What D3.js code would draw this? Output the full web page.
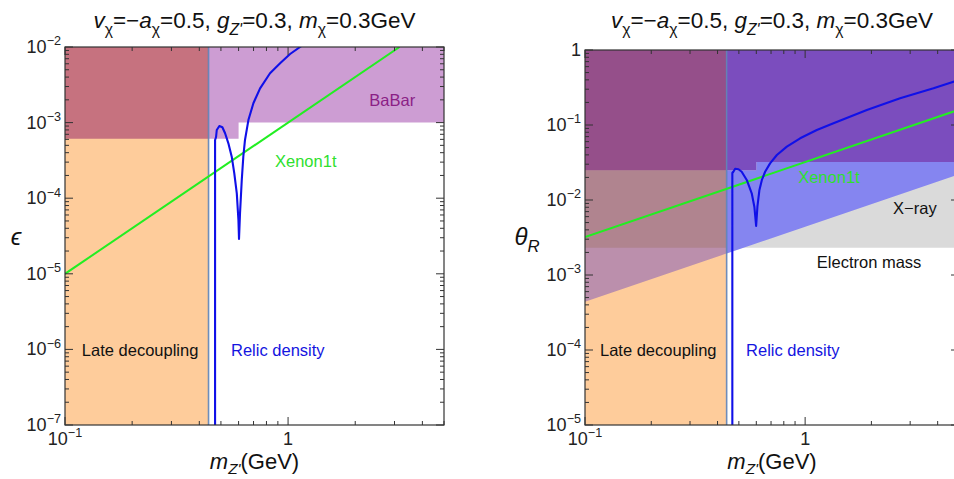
<!DOCTYPE html>
<html><head><meta charset="utf-8">
<script src="https://cdn.jsdelivr.net/npm/d3@7"></script>
<style>
body{margin:0;background:#fff}
svg{display:block;font-family:"Liberation Sans",Arial,sans-serif}
text{white-space:pre}
</style>
</head><body>
<svg id="c" width="954" height="479"></svg>
<script>
// ---------------- DATA ----------------
const massDomain = [0.1, 5];
const xTickValues = [0.1, 1];
const xTickLabels = [["10", "−1"], ["1", ""]];
const lateDecouplingMax = 0.44;

// Left panel (epsilon)
const epsDomain = [1e-7, 1e-2];
const epsTickValues = [1e-7, 1e-6, 1e-5, 1e-4, 1e-3, 1e-2];
const epsTickLabels = [["10","−7"],["10","−6"],["10","−5"],["10","−4"],["10","−3"],["10","−2"]];
const babarMass = [0.1, 0.6, 0.6, 5];
const babarEps  = [6.1e-4, 6.1e-4, 1.0e-3, 1.0e-3];
const xenonMassL = [0.1, 3.16];
const xenonEps   = [1e-5, 1e-2];
const relicMassL = [0.4707,0.4707,0.4755,0.479,0.492,0.5076,0.522,0.540,0.559,0.574,0.589,0.599,0.6026,0.609,0.620,0.630,0.641,0.664,0.699,0.749,0.830,0.921,1.021,1.132,1.25];
const relicEps   = [1e-7,5.89e-4,6.45e-4,7.98e-4,9.02e-4,8.67e-4,7.22e-4,5.32e-4,3.54e-4,2.13e-4,1.16e-4,5.15e-5,2.88e-5,6.37e-5,1.74e-4,3.54e-4,5.89e-4,1.08e-3,1.80e-3,2.84e-3,4.49e-3,6.09e-3,8.08e-3,1.0e-2,1.25e-2];

// Right panel (theta_R)
const thetaDomain = [1e-5, 1];
const thetaTickValues = [1e-5, 1e-4, 1e-3, 1e-2, 1e-1, 1];
const thetaTickLabels = [["10","−5"],["10","−4"],["10","−3"],["10","−2"],["10","−1"],["1",""]];
const mixBoundMass  = [0.1, 0.6, 0.6, 5];
const mixBoundTheta = [0.025, 0.025, 0.032, 0.032];
const xrayMass  = [0.1, 5];
const xrayTheta = [4.4e-4, 0.022];
const electronMassTheta = 2.3e-3;
const xenonMassR  = [0.1, 5];
const xenonTheta  = [3.2e-3, 0.16];
const relicMassR  = [0.467,0.467,0.472,0.481,0.498,0.515,0.543,0.572,0.588,0.599,0.607,0.620,0.636,0.658,0.693,0.744,0.826,0.949,1.130,1.345,1.907,2.70,3.83,4.72,5.0];
const relicTheta  = [1e-5,0.0229,0.0238,0.0261,0.0257,0.0238,0.0185,0.01228,8.14e-3,4.5e-3,8.14e-3,0.0136,0.0185,0.0238,0.0308,0.0398,0.0514,0.0665,0.0858,0.1054,0.158,0.227,0.308,0.378,0.40];

// ---------------- DRAW ----------------
const svg = d3.select("#c");
const zip = (a, b) => a.map((v, i) => [v, b[i]]);

function rich(sel, segs, size, subShift) {
  let cur = 0;
  segs.forEach(([t, type]) => {
    let target = 0, fs = size, it = false;
    if (type === "sub" || type === "subi") { target = size * (subShift || 0.3); fs = size * 0.7; }
    if (type === "sup") { target = -size * 0.42; fs = size * 0.7; }
    if (type === "i" || type === "subi") it = true;
    const ts = sel.append("tspan").text(t).attr("font-size", fs);
    if (it) ts.attr("font-style", "italic");
    if (target !== cur) { ts.attr("dy", target - cur); cur = target; }
  });
}

let clipN = 0;
function makeClip(x0, y0, w, h) {
  const id = "clip" + (clipN++);
  svg.append("clipPath").attr("id", id).append("rect")
    .attr("x", x0).attr("y", y0).attr("width", w).attr("height", h);
  return "url(#" + id + ")";
}

function drawPanel(cfg) {
  const x = d3.scaleLog().domain(massDomain).range(cfg.xr);
  const y = d3.scaleLog().domain(cfg.yDomain).range(cfg.yr);
  const [X0, X1] = cfg.xr, [Y1, Y0] = cfg.yr;
  const line = d3.line().x(d => x(d[0])).y(d => y(d[1]));
  const poly = pts => line(pts) + "Z";
  const xs = x(lateDecouplingMax);
  const clipAll = makeClip(X0, Y0, X1 - X0, Y1 - Y0);
  const clipL = makeClip(X0, Y0, xs - X0, Y1 - Y0);
  const clipR = makeClip(xs, Y0, X1 - xs, Y1 - Y0);
  const gL = svg.append("g").attr("clip-path", clipL);
  const gR = svg.append("g").attr("clip-path", clipR);

  const [ya, yb] = cfg.yDomain;
  gL.append("path").attr("fill", "#FECC9B")
    .attr("d", poly([[massDomain[0], ya], [lateDecouplingMax, ya], [lateDecouplingMax, yb], [massDomain[0], yb]]));

  cfg.regions(gL, gR, poly, ya, yb);

  svg.append("line").attr("x1", xs).attr("x2", xs).attr("y1", Y0).attr("y2", Y1)
    .attr("stroke", "#5E82B6").attr("stroke-width", 1.6).attr("stroke-opacity", 0.9);

  const gc = svg.append("g").attr("clip-path", clipAll);
  gc.append("path").attr("d", line(cfg.xenon)).attr("fill", "none")
    .attr("stroke", "#22EE22").attr("stroke-width", 2);
  gc.append("path").attr("d", line(cfg.relic)).attr("fill", "none")
    .attr("stroke", "#1010E8").attr("stroke-width", 2.1).attr("stroke-linejoin", "round");

  svg.append("rect").attr("x", X0).attr("y", Y0).attr("width", X1 - X0).attr("height", Y1 - Y0)
    .attr("fill", "none").attr("stroke", "#333").attr("stroke-width", 1.2);

  const tg = svg.append("g").attr("stroke", "#333").attr("stroke-width", 1);
  function logTicks(dom) {
    const out = [];
    const lo = Math.floor(Math.log10(dom[0])), hi = Math.ceil(Math.log10(dom[1]));
    for (let e = lo; e <= hi; e++) for (let k = 1; k <= 9; k++) {
      const v = k * Math.pow(10, e);
      if (v >= dom[0] * 0.9999 && v <= dom[1] * 1.0001) out.push([v, k === 1]);
    }
    return out;
  }
  logTicks(massDomain).forEach(([v, maj]) => {
    const L = maj ? 8 : 4, px = x(v);
    tg.append("line").attr("x1", px).attr("x2", px).attr("y1", Y1).attr("y2", Y1 - L);
    tg.append("line").attr("x1", px).attr("x2", px).attr("y1", Y0).attr("y2", Y0 + L);
  });
  logTicks(cfg.yDomain).forEach(([v, maj]) => {
    const L = maj ? 8 : 4, py = y(v);
    tg.append("line").attr("y1", py).attr("y2", py).attr("x1", X0).attr("x2", X0 + L);
    tg.append("line").attr("y1", py).attr("y2", py).attr("x1", X1).attr("x2", X1 - L);
  });

  cfg.yTicks.forEach((v, i) => {
    const t = svg.append("text").attr("x", X0 - 4).attr("y", y(v) + 6).attr("text-anchor", "end").attr("fill", "#222");
    const lab = cfg.yLabels[i];
    rich(t, lab[1] ? [[lab[0], "n"], [lab[1], "sup"]] : [[lab[0], "n"]], 18);
  });
  xTickValues.forEach((v, i) => {
    const t = svg.append("text").attr("x", x(v)).attr("y", Y1 + 20).attr("text-anchor", "middle").attr("fill", "#222");
    const lab = xTickLabels[i];
    rich(t, lab[1] ? [[lab[0], "n"], [lab[1], "sup"]] : [[lab[0], "n"]], 18);
  });

  const cx = (X0 + X1) / 2;
  const tt = svg.append("text").attr("x", cx).attr("y", 28).attr("text-anchor", "middle").attr("fill", "#111");
  rich(tt, [["v","i"],["χ","sub"],["=−","n"],["a","i"],["χ","sub"],["=0.5, ","n"],["g","i"],["Z'","subi"],["=0.3, ","n"],["m","i"],["χ","sub"],["=0.3GeV","n"]], 22.5);
  const xl = svg.append("text").attr("x", cx).attr("y", 469).attr("text-anchor", "middle").attr("fill", "#111");
  rich(xl, [["m","i"],["Z'","subi"],["(GeV)","n"]], 22, 0.22);
  const yl = svg.append("text").attr("x", cfg.ylabX).attr("y", 245).attr("text-anchor", "middle").attr("fill", "#111");
  rich(yl, cfg.ylab, 24);

  cfg.labels.forEach(l => {
    svg.append("text").attr("x", x(l.m)).attr("y", y(l.v)).attr("fill", l.c)
      .attr("font-size", 16.5).attr("text-anchor", l.a || "start").text(l.t);
  });
}

drawPanel({
  xr: [65, 444], yr: [425, 47], yDomain: epsDomain,
  yTicks: epsTickValues, yLabels: epsTickLabels,
  ylab: [["ϵ", "i"]], ylabX: 16,
  xenon: zip(xenonMassL, xenonEps),
  relic: zip(relicMassL, relicEps),
  regions: (gL, gR, poly, ya, yb) => {
    const babar = zip(babarMass, babarEps);
    const babarPoly = poly(babar.concat([[massDomain[1], yb], [massDomain[0], yb]]));
    gL.append("path").attr("fill", "#C6727F").attr("d", babarPoly);
    gR.append("path").attr("fill", "#CD9DD3").attr("d", babarPoly);
  },
  labels: [
    {t: "BaBar", m: 2.93, v: 1.66e-3, c: "#8B1F86", a: "middle"},
    {t: "Xenon1t", m: 0.874, v: 2.59e-4, c: "#2EE02E"},
    {t: "Late decoupling", m: 0.119, v: 8.2e-7, c: "#111"},
    {t: "Relic density", m: 0.555, v: 8.2e-7, c: "#1414E0"}
  ]
});

drawPanel({
  xr: [585, 959], yr: [425, 50], yDomain: thetaDomain,
  yTicks: thetaTickValues, yLabels: thetaTickLabels,
  ylab: [["θ", "i"], ["R", "subi"]], ylabX: 527,
  xenon: zip(xenonMassR, xenonTheta),
  relic: zip(relicMassR, relicTheta),
  regions: (gL, gR, poly, ya, yb) => {
    const bound = zip(mixBoundMass, mixBoundTheta);
    const boundRev = bound.slice().reverse();
    const purplePoly = poly(bound.concat([[massDomain[1], yb], [massDomain[0], yb]]));
    const bluePoly = poly(zip(xrayMass, xrayTheta).concat(boundRev));
    const grayPoly = poly([[massDomain[0], electronMassTheta], [massDomain[1], electronMassTheta]].concat(boundRev));
    gL.append("path").attr("fill", "#BB8FAC").attr("d", bluePoly);
    gL.append("path").attr("fill", "#B0848F").attr("d", grayPoly);
    gL.append("path").attr("fill", "#954F8A").attr("d", purplePoly);
    gR.append("path").attr("fill", "#DADADA").attr("d", grayPoly);
    gR.append("path").attr("fill", "#8585F0").attr("d", bluePoly);
    gR.append("path").attr("fill", "#7B4DBE").attr("d", purplePoly);
  },
  labels: [
    {t: "Xenon1t", m: 0.93, v: 1.69e-2, c: "#2EE02E"},
    {t: "X−ray", m: 2.51, v: 6.5e-3, c: "#111"},
    {t: "Electron mass", m: 1.13, v: 1.24e-3, c: "#111"},
    {t: "Late decoupling", m: 0.117, v: 8.3e-5, c: "#111"},
    {t: "Relic density", m: 0.539, v: 8.3e-5, c: "#1414E0"}
  ]
});
</script>
</body></html>
